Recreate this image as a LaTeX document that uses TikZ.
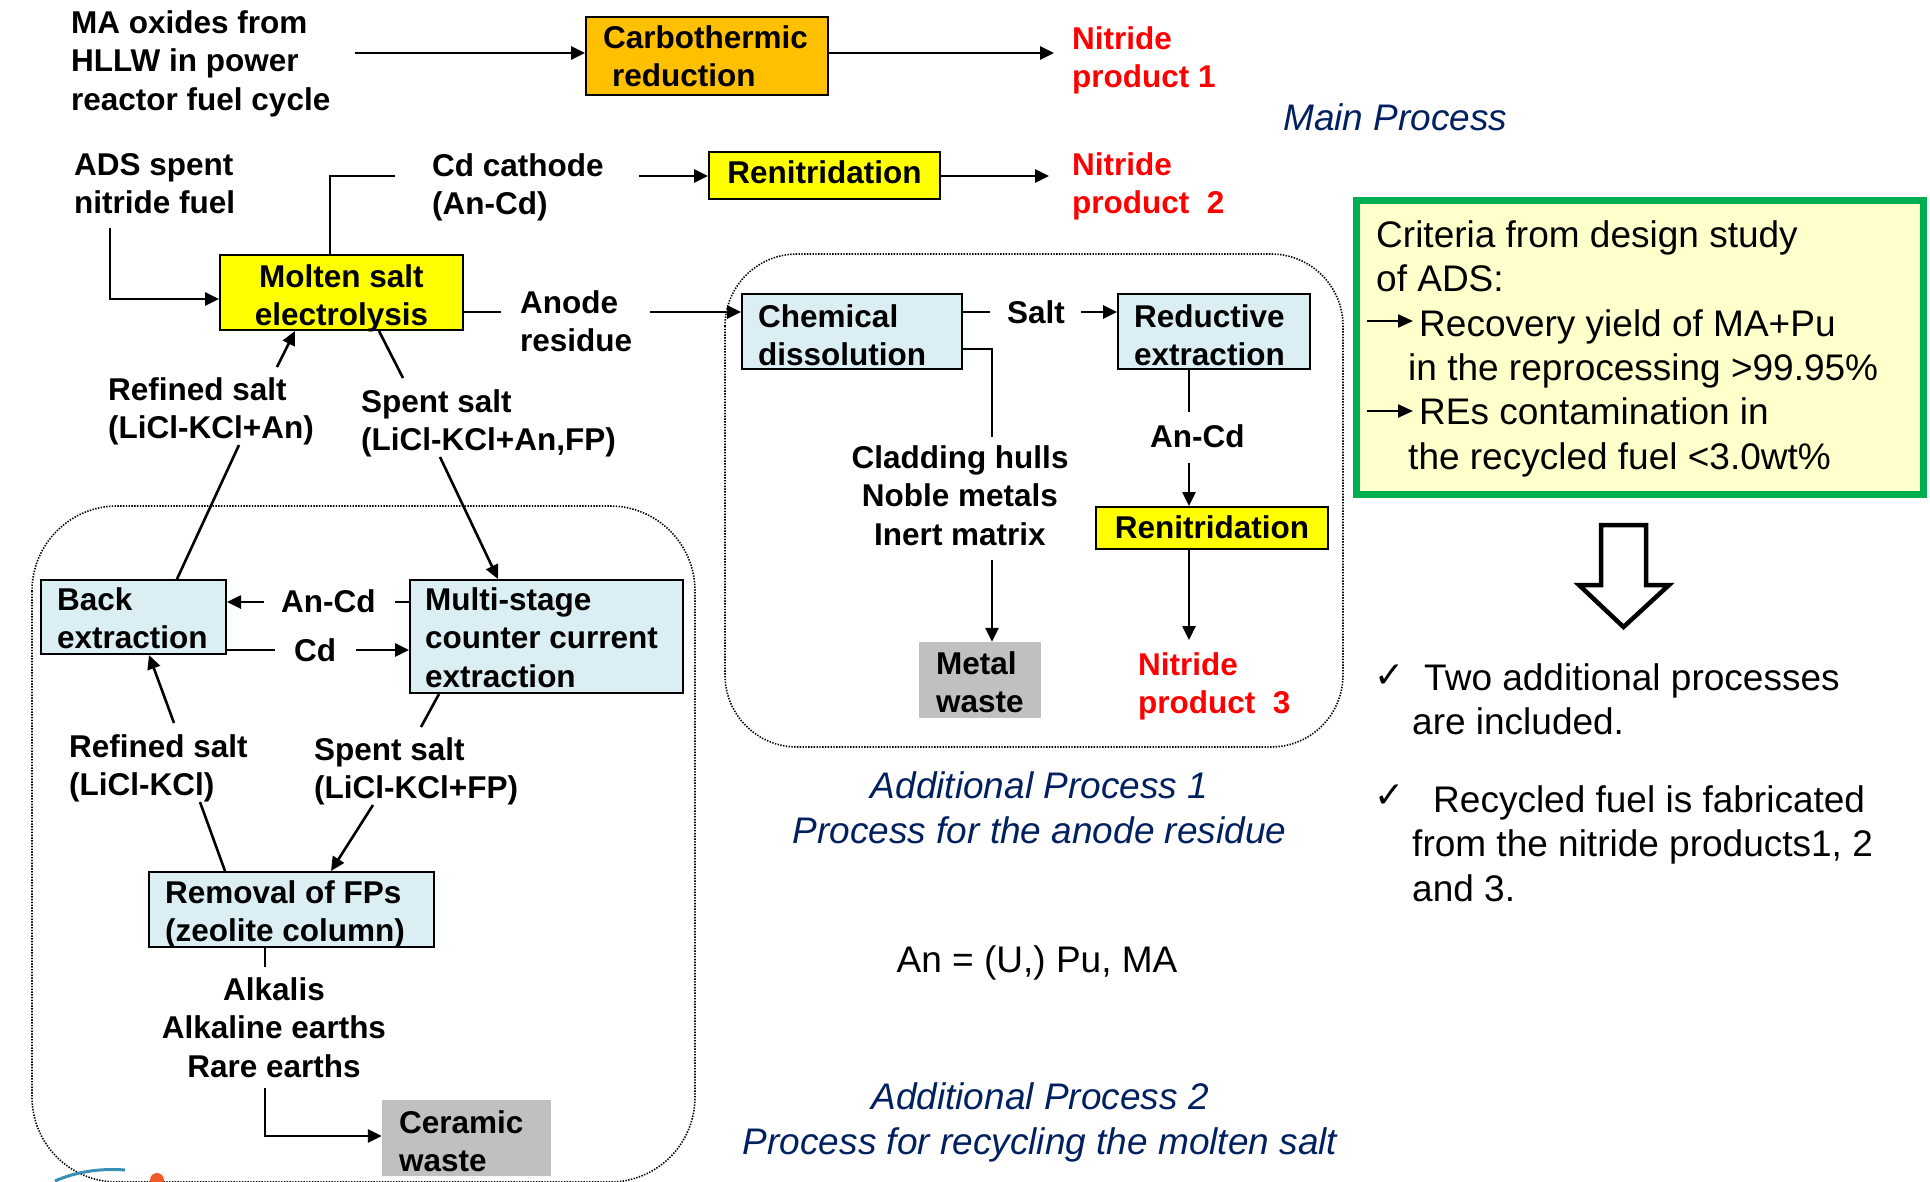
\documentclass[tikz,border=0pt]{standalone}
\usepackage{fontspec}
\setmainfont{Liberation Sans}
\newfontfamily\dejavu{DejaVu Sans}
\usetikzlibrary{arrows.meta}
\definecolor{orng}{HTML}{FFC000}
\definecolor{yel}{HTML}{FFFF00}
\definecolor{lblue}{HTML}{DBEEF4}
\definecolor{gry}{HTML}{C0C0C0}
\definecolor{grn}{HTML}{00B050}
\definecolor{lyel}{HTML}{FFFFCC}
\definecolor{navy}{HTML}{002060}
\definecolor{logoblue}{HTML}{3A8FB7}
\definecolor{logoorange}{HTML}{F05A28}
\begin{document}
\begin{tikzpicture}[x=1pt,y=-1pt,
  box/.style={draw=black, line width=2.4pt, inner sep=0pt},
  plain/.style={inner sep=0pt},
  bt/.style={inner sep=0pt, anchor=north west, yshift=26.95pt, align=left, font=\fontsize{31.5}{38.5}\selectfont\bfseries},
  btc/.style={bt, anchor=north, align=center},
  rt/.style={inner sep=0pt, anchor=north west, yshift=31.08pt, align=left, font=\fontsize{37}{44.4}\selectfont},
  rtc/.style={rt, anchor=north, align=center},
  itc/.style={inner sep=0pt, anchor=north, yshift=31.85pt, align=center, text=navy, font=\fontsize{37}{45.5}\selectfont\itshape},
  itl/.style={itc, anchor=north west, align=left},
  chk/.style={anchor=base west, inner sep=0pt, font=\dejavu\bfseries\fontsize{36}{40}\selectfont},
  ln/.style={line width=2.6pt},
  arr/.style={ln, -{Triangle[length=14pt,width=13pt]}},
  glyarr/.style={line width=2.3pt, -{Triangle[length=15pt,width=13pt]}},
  dotbox/.style={line width=1.6pt, dash pattern=on 1.4pt off 1.4pt, rounded corners=#1},
]
\fill[white] (0,0) rectangle (1930,1181);
\useasboundingbox (0,0) rectangle (1930,1181);

% dotted process regions
\draw[dotbox=72pt] (725,254) rectangle (1343,747);
\draw[dotbox=85pt] (32,506) rectangle (695,1182);

% partial logo at the bottom edge
\fill[logoorange] (157,1180) circle (7pt);
\draw[logoblue, line width=3pt] (55,1181) .. controls (75,1172) and (100,1168) .. (125,1170);

% boxes
\node[box, fill=orng, minimum width=241.6, minimum height=77.6] (carbo) at (707,56) {};
\node[box, fill=yel, minimum width=242.6, minimum height=74.6] (molten) at (341.5,292.5) {};
\node[box, fill=yel, minimum width=230.6, minimum height=46.6] (renA) at (824.5,175.5) {};
\node[box, fill=lblue, minimum width=219.6, minimum height=74.6] (chem) at (852,331.5) {};
\node[box, fill=lblue, minimum width=191.6, minimum height=74.6] (reduct) at (1214,331.5) {};
\node[box, fill=yel, minimum width=231.6, minimum height=41.6] (renB) at (1212,528) {};
\node[plain, fill=gry, minimum width=122, minimum height=76] (metal) at (980,680) {};
\node[box, fill=lblue, minimum width=184.6, minimum height=73.6] (back) at (133.5,617) {};
\node[box, fill=lblue, minimum width=272.6, minimum height=112.6] (multi) at (546.5,636.5) {};
\node[box, fill=lblue, minimum width=284.6, minimum height=74.6] (removal) at (291.5,909.5) {};
\node[plain, fill=gry, minimum width=169, minimum height=76] (ceramic) at (466.5,1138) {};
\node[draw=grn, line width=7pt, fill=lyel, inner sep=0pt, minimum width=567, minimum height=294] (crit) at (1640,347.5) {};

% bold texts
\node[bt] (tMA) at (71,33) {\strut MA oxides from\\HLLW in power\\reactor fuel cycle};
\node[bt] (tCarbo) at (603,48) {\strut Carbothermic\\\hspace*{8.8pt}reduction};
\node[bt, text=red] (tN1) at (1072,49) {\strut Nitride\\product 1};
\node[bt] (tADS) at (74,175) {\strut ADS spent\\nitride fuel};
\node[btc] (tMolten) at (341.5,287) {\strut Molten salt\\electrolysis};
\node[bt] (tCd) at (432,176) {\strut Cd cathode\\(An-Cd)};
\node[btc] (tRenA) at (824.5,183) {\strut Renitridation};
\node[bt, text=red] (tN2) at (1072,175) {\strut Nitride\\product\ \ 2};
\node[bt] (tAnode) at (520,313) {\strut Anode\\residue};
\node[bt] (tRef1) at (108,400) {\strut Refined salt\\(LiCl-KCl+An)};
\node[bt] (tSp1) at (361,412) {\strut Spent salt\\(LiCl-KCl+An,FP)};
\node[bt] (tChem) at (758,327) {\strut Chemical\\dissolution};
\node[bt] (tSalt) at (1007,323) {\strut Salt};
\node[bt] (tRed) at (1134,327) {\strut Reductive\\extraction};
\node[bt] (tAnCdA) at (1150,447) {\strut An-Cd};
\node[btc] (tClad) at (960,468) {\strut Cladding hulls\\Noble metals\\Inert matrix};
\node[btc] (tRenB) at (1212,538) {\strut Renitridation};
\node[bt] (tMetal) at (936,674) {\strut Metal\\waste};
\node[bt, text=red] (tN3) at (1138,675) {\strut Nitride\\product\ \ 3};
\node[bt] (tBack) at (57,610) {\strut Back\\extraction};
\node[bt] (tMulti) at (425,610) {\strut Multi-stage\\counter current\\extraction};
\node[bt] (tAnCdB) at (281,612) {\strut An-Cd};
\node[bt] (tCdB) at (294,661) {\strut Cd};
\node[bt] (tRef2) at (69,757) {\strut Refined salt\\(LiCl-KCl)};
\node[bt] (tSp2) at (314,760) {\strut Spent salt\\(LiCl-KCl+FP)};
\node[bt] (tRem) at (165,903) {\strut Removal of FPs\\(zeolite column)};
\node[btc] (tAlk) at (274,1000) {\strut Alkalis\\Alkaline earths\\Rare earths};
\node[bt] (tCer) at (399,1133) {\strut Ceramic\\waste};

% regular and italic texts
\node[rt] (tCrit) at (1376,247) {\strut Criteria from design study\\of ADS:\\\hspace*{43pt}Recovery yield of MA+Pu\\\hspace*{32pt}in the reprocessing >99.95\%\\\hspace*{43pt}REs contamination in\\\hspace*{32pt}the recycled fuel <3.0wt\%};
\node[chk] (chk1) at (1374,687) {✓};
\node[chk] (chk2) at (1374,807) {✓};
\node[rt] (tTwo) at (1412,690) {\strut\hspace*{12pt}Two additional processes\\are included.};
\node[rt] (tRec) at (1412,812) {\strut\hspace*{21pt}Recycled fuel is fabricated\\from the nitride products1, 2\\and 3.};
\node[rtc] (tAn) at (1037,972) {\strut An = (U,) Pu, MA};
\node[itl] (tMain) at (1283,130) {\strut Main Process};
\node[itc] (tAP1) at (1039.5,798) {\strut Additional Process 1\\Process for the anode residue};
\node[itc] (tAP2) at (1040,1109) {\strut Additional Process 2\\Process for recycling the molten salt};

% small arrows inside criteria box
\coordinate (g1s) at (1367,321); \coordinate (g1e) at (1413,321);
\coordinate (g2s) at (1367,411); \coordinate (g2e) at (1413,411);
\draw[glyarr] (g1s) -- (g1e);
\draw[glyarr] (g2s) -- (g2e);

% hollow down arrow
\draw[line width=4.5pt, fill=white, line join=miter] (1601,525) -- (1646,525) -- (1646,585) -- (1669,585) -- (1623.5,627) -- (1579,585) -- (1601,585) -- cycle;

% connectors
\coordinate (c1s) at (355,53);
\draw[arr] (c1s) -- (c1s -| carbo.west);
\coordinate (c2e) at (1054,53);
\draw[arr] (c2e -| carbo.east) -- (c2e);
\coordinate (c3s) at (110,228); \coordinate (c3b) at (110,299);
\draw[arr] (c3s) -- (c3b) -- (c3b -| molten.west);
\coordinate (c4b) at (330,176); \coordinate (c4e) at (395,176);
\draw[ln] (c4b |- molten.north) -- (c4b) -- (c4e);
\coordinate (c5s) at (639,176);
\draw[arr] (c5s) -- (c5s -| renA.west);
\coordinate (c6e) at (1049,176);
\draw[arr] (c6e -| renA.east) -- (c6e);
\coordinate (c7e) at (501,312);
\draw[ln] (c7e -| molten.east) -- (c7e);
\coordinate (c8s) at (650,312);
\draw[arr] (c8s) -- (c8s -| chem.west);
\coordinate (c9s) at (277,367); \coordinate (c9e) at (295,331);
\draw[arr] (c9s) -- (c9e |- molten.south);
\coordinate (c10s) at (379,331); \coordinate (c10e) at (403,378);
\draw[ln] (c10s |- molten.south) -- (c10e);
\coordinate (c11s) at (239,445); \coordinate (c11e) at (177,579);
\draw[ln] (c11s) -- (c11e |- back.north);
\coordinate (c12s) at (440,457); \coordinate (c12e) at (498,579);
\draw[arr] (c12s) -- (c12e |- multi.north);
\coordinate (c13t) at (395,602);
\draw[ln] (c13t) -- (c13t -| multi.west);
\coordinate (c13s) at (264,602);
\draw[arr] (c13s) -- (c13s -| back.east);
\coordinate (c14e) at (275,650);
\draw[ln] (c14e -| back.east) -- (c14e);
\coordinate (c14s) at (356,650);
\draw[arr] (c14s) -- (c14s -| multi.west);
\coordinate (c15s) at (174,723); \coordinate (c15e) at (149,655);
\draw[arr] (c15s) -- (c15e |- back.south);
\coordinate (c16s) at (439,694); \coordinate (c16e) at (421,727);
\draw[ln] (c16s |- multi.south) -- (c16e);
\coordinate (c17s) at (200,802); \coordinate (c17e) at (225,871);
\draw[ln] (c17s) -- (c17e |- removal.north);
\coordinate (c18s) at (373,805); \coordinate (c18e) at (331,871);
\draw[arr] (c18s) -- (c18e |- removal.north);
\coordinate (c19e) at (265,967);
\draw[ln] (c19e |- removal.south) -- (c19e);
\coordinate (c20s) at (265,1088); \coordinate (c20b) at (265,1136);
\draw[arr] (c20s) -- (c20b) -- (c20b -| ceramic.west);
\coordinate (c21b) at (992,349); \coordinate (c21e) at (992,437);
\draw[ln] (c21b -| chem.east) -- (c21b) -- (c21e);
\coordinate (c22e) at (990,312);
\draw[ln] (c22e -| chem.east) -- (c22e);
\coordinate (c22s) at (1081,312);
\draw[arr] (c22s) -- (c22s -| reduct.west);
\coordinate (c23e) at (1189,412);
\draw[ln] (c23e |- reduct.south) -- (c23e);
\coordinate (c24s) at (1189,463);
\draw[arr] (c24s) -- (c24s |- renB.north);
\coordinate (c25e) at (1189,640);
\draw[arr] (c25e |- renB.south) -- (c25e);
\coordinate (c26s) at (992,560);
\draw[arr] (c26s) -- (c26s |- metal.north);
\end{tikzpicture}
\end{document}
